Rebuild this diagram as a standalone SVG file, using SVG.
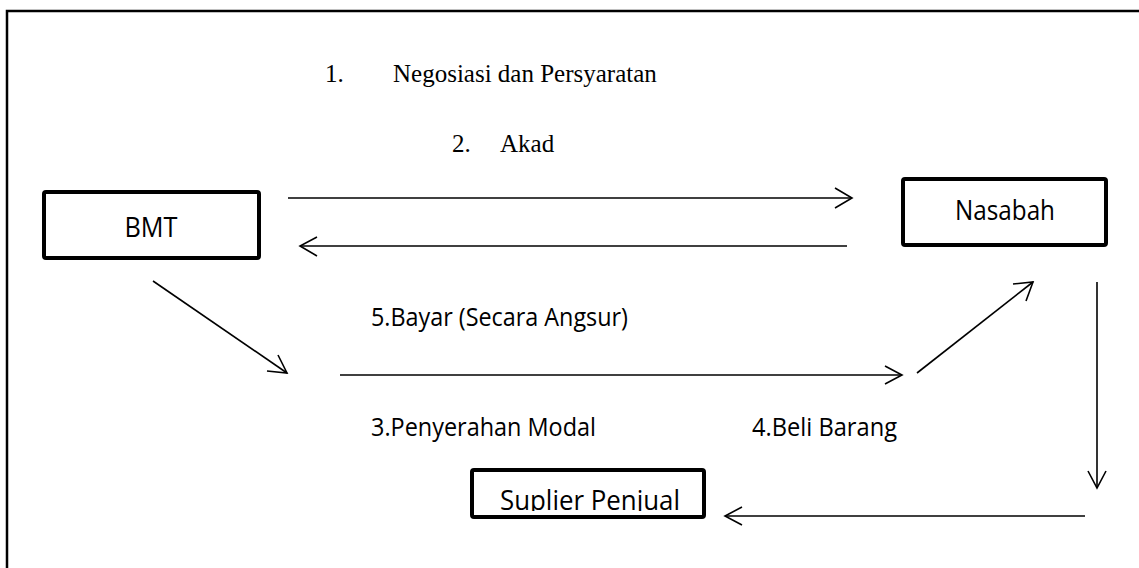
<svg xmlns="http://www.w3.org/2000/svg" width="1139" height="568" viewBox="0 0 1139 568">
<style>
.node{fill:#fff;stroke:#000;stroke-width:4}
.frame{fill:none;stroke:#000;stroke-width:2.5}
.conn line,.conn polyline{stroke:#000;stroke-width:1.6;fill:none}
.ser{font-family:"Liberation Serif","Times New Roman",serif;font-size:25px;fill:#000}
.sans{font-family:"Open Sans","Noto Sans",sans-serif;fill:#000}
.lbl{font-size:26px}
.nl{font-size:27px;text-anchor:middle}
</style>
<defs>
<clipPath id="clipSup"><rect x="472" y="470" width="232" height="41"/></clipPath>
</defs>
<polyline class="frame" points="7,568 7,11 1139,11"/>
<g id="texts-top">
<text class="ser" x="325" y="82">1.</text>
<text class="ser" x="393" y="82">Negosiasi dan Persyaratan</text>
<text class="ser" x="452" y="152">2.</text>
<text class="ser" x="500" y="152">Akad</text>
</g>
<g id="node-bmt">
<rect class="node" x="44" y="192" width="215" height="66" rx="2"/>
<text class="sans nl" x="151" y="237" textLength="53" lengthAdjust="spacingAndGlyphs">BMT</text>
</g>
<g id="node-nasabah">
<rect class="node" x="903" y="179" width="203" height="66" rx="2"/>
<text class="sans nl" x="1005" y="220" textLength="100" lengthAdjust="spacingAndGlyphs">Nasabah</text>
</g>
<g id="node-suplier">
<rect class="node" x="472" y="470" width="232" height="47" rx="2"/>
<text class="sans nl" x="590" y="510" clip-path="url(#clipSup)" textLength="180" lengthAdjust="spacingAndGlyphs">Suplier Penjual</text>
</g>
<g id="labels">
<text class="sans lbl" x="371" y="326" textLength="257" lengthAdjust="spacingAndGlyphs">5.Bayar (Secara Angsur)</text>
<text class="sans lbl" x="371" y="436" textLength="225" lengthAdjust="spacingAndGlyphs">3.Penyerahan Modal</text>
<text class="sans lbl" x="752" y="436" textLength="145" lengthAdjust="spacingAndGlyphs">4.Beli Barang</text>
</g>
<g id="connectors" class="conn">
<line x1="288" y1="198" x2="852" y2="198"/>
<polyline points="835,188 852,198 835,208"/>
<line x1="847" y1="246" x2="300" y2="246"/>
<polyline points="317,237 300,246 317,256"/>
<line x1="153" y1="281" x2="287" y2="373"/>
<polyline points="267,371 287,373 278,355"/>
<line x1="340" y1="375" x2="902" y2="375"/>
<polyline points="885,366 902,375 885,384"/>
<line x1="917" y1="373" x2="1033" y2="282"/>
<polyline points="1013,284 1033,282 1026,301"/>
<line x1="1097" y1="282" x2="1097" y2="488"/>
<polyline points="1088,471 1097,488 1106,471"/>
<line x1="1085" y1="516" x2="725" y2="516"/>
<polyline points="742,507 725,516 742,525"/>
</g>
</svg>
